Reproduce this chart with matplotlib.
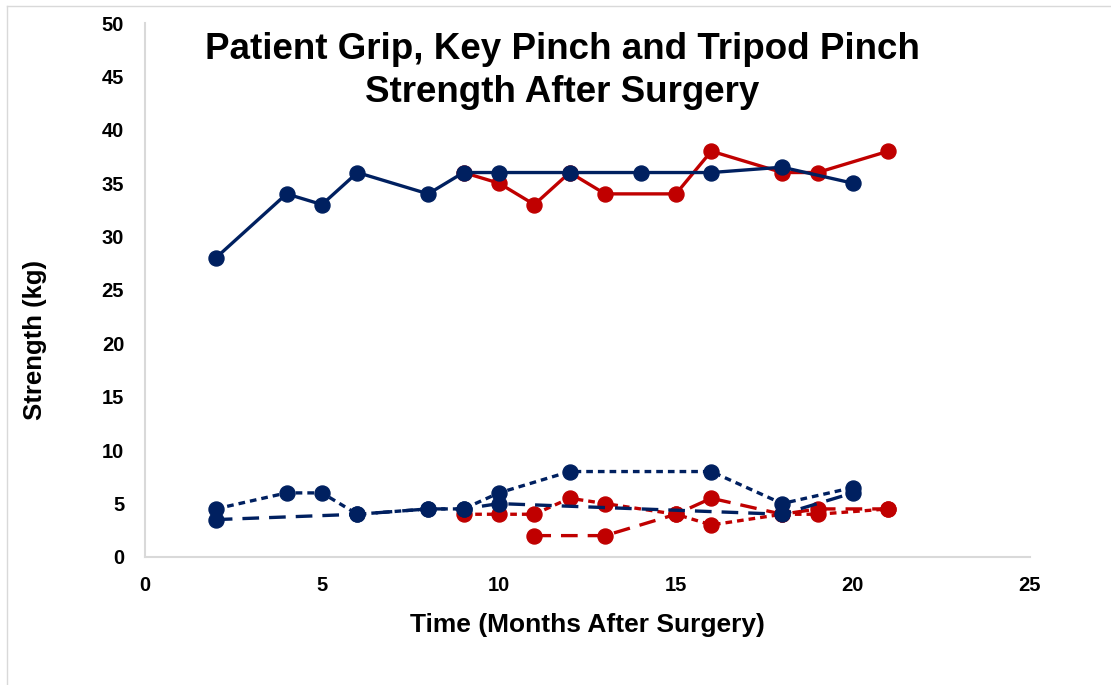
import matplotlib
matplotlib.use("Agg")
import matplotlib.pyplot as plt
from matplotlib.lines import Line2D

plt.rcParams['font.family'] = ['Liberation Sans', 'DejaVu Sans']

BLUE = '#002060'
RED = '#C00000'

# Grip strength (solid)
grip_blue_x = [2, 4, 5, 6, 8, 9, 10, 12, 14, 16, 18, 20]
grip_blue_y = [28, 34, 33, 36, 34, 36, 36, 36, 36, 36, 36.5, 35]
grip_red_x = [9, 10, 11, 12, 13, 15, 16, 18, 19, 21]
grip_red_y = [36, 35, 33, 36, 34, 34, 38, 36, 36, 38]

# Pinch (short dash)
sd_blue_x = [2, 4, 5, 6, 8, 9, 10, 12, 16, 18, 20]
sd_blue_y = [4.5, 6, 6, 4, 4.5, 4.5, 6, 8, 8, 5, 6.5]
sd_red_x = [9, 10, 11, 12, 13, 15, 16, 18, 19, 21]
sd_red_y = [4, 4, 4, 5.5, 5, 4, 3, 4, 4, 4.5]

# Pinch (long dash)
ld_blue_x = [2, 6, 8, 9, 10, 18, 20]
ld_blue_y = [3.5, 4, 4.5, 4.5, 5, 4, 6]
ld_red_x = [11, 13, 15, 16, 18, 19, 21]
ld_red_y = [2, 2, 4, 5.5, 4, 4.5, 4.5]

x_ticks = [0, 5, 10, 15, 20, 25]
y_ticks = [0, 5, 10, 15, 20, 25, 30, 35, 40, 45, 50]

fig = plt.figure(figsize=(11.11, 6.85), dpi=100)
# outer chart border (left and top visible)
fig.add_artist(Line2D([7/1111, 7/1111], [0, 1 - 6/685], transform=fig.transFigure,
                      color='#D9D9D9', lw=1))
fig.add_artist(Line2D([7/1111, 1], [1 - 6/685, 1 - 6/685], transform=fig.transFigure,
                      color='#D9D9D9', lw=1))
ax = fig.add_axes([0.1305, 0.1869, 0.7965, 0.7795])

lw = 2.4
ms = 10.8
ax.plot(grip_red_x, grip_red_y, color=RED, lw=lw, marker='o', ms=ms, zorder=3)
ax.plot(grip_blue_x, grip_blue_y, color=BLUE, lw=lw, marker='o', ms=ms, zorder=4)
ax.plot(ld_red_x, ld_red_y, color=RED, lw=lw, marker='o', ms=ms, dashes=(5, 3), zorder=3)
ax.plot(sd_red_x, sd_red_y, color=RED, lw=lw, marker='o', ms=ms, dashes=(2, 1.5), zorder=3)
ax.plot(ld_blue_x, ld_blue_y, color=BLUE, lw=lw, marker='o', ms=ms, dashes=(5, 3), zorder=4)
ax.plot(sd_blue_x, sd_blue_y, color=BLUE, lw=lw, marker='o', ms=ms, dashes=(2, 1.5), zorder=4)

ax.set_xlim(0, 25)
ax.set_ylim(0, 50)
ax.set_xticks(x_ticks)
ax.set_yticks(y_ticks)
ax.tick_params(length=0, labelsize=14.5)
ax.tick_params(axis='y', pad=15)
ax.tick_params(axis='x', pad=14)
for lab in ax.get_xticklabels() + ax.get_yticklabels():
    lab.set_fontweight('bold')
for s in ['top', 'right']:
    ax.spines[s].set_visible(False)
for s in ['left', 'bottom']:
    ax.spines[s].set_color('#D9D9D9')
    ax.spines[s].set_linewidth(1.5)

ax.set_xlabel('Time (Months After Surgery)', fontsize=19, fontweight='bold')
ax.xaxis.set_label_coords(0.5, -(625 - 557) / 534, transform=ax.transAxes)
ax.xaxis.label.set_va('center')
ax.set_ylabel('Strength (kg)', fontsize=18.5, fontweight='bold')
ax.yaxis.set_label_coords((35 - 145) / 885, (557 - 340) / 534, transform=ax.transAxes)
ax.yaxis.label.set_va('center')

fig.text(0.506, 1 - 32 / 685, 'Patient Grip, Key Pinch and Tripod Pinch\nStrength After Surgery',
         ha='center', va='top', fontsize=26.5, fontweight='bold', linespacing=1.3)

fig.savefig('out.png', dpi=100)
